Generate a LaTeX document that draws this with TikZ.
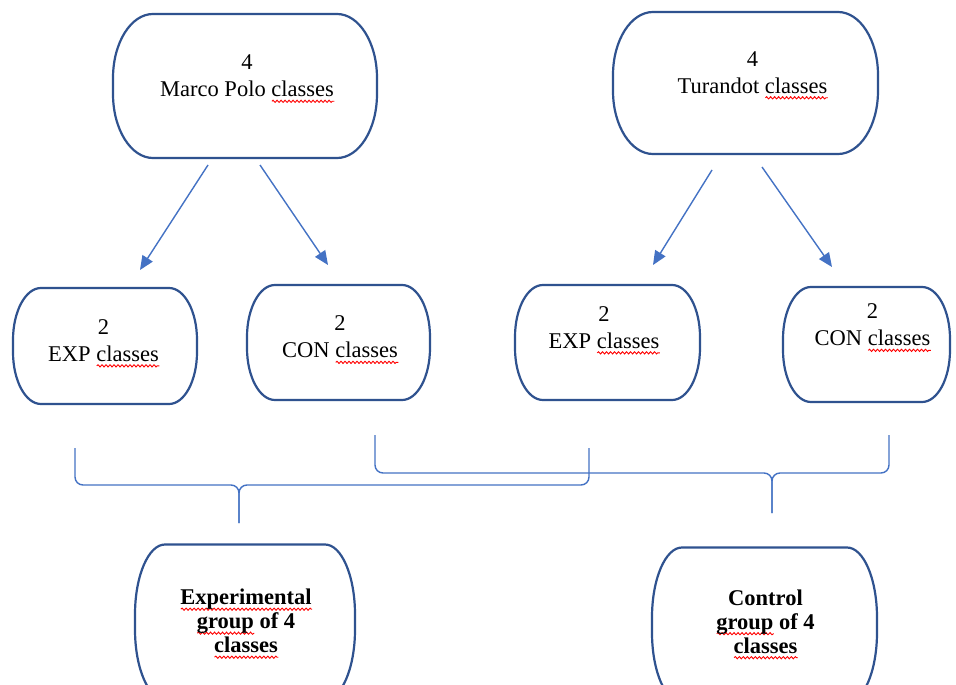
\documentclass[tikz,border=0pt]{standalone}
\usepackage{fontspec}
\setmainfont{Liberation Serif}
\usetikzlibrary{arrows.meta,calc,decorations.pathmorphing}
\definecolor{boxblue}{HTML}{2F528F}
\definecolor{linkblue}{HTML}{4472C4}
\newsavebox\sqbox
\newcommand\sq[1]{\sbox\sqbox{#1}\makebox[0pt][l]{\smash{\tikz[baseline=0pt,x=1pt,y=1pt]\draw[red,line width=0.9pt,decorate,decoration={snake,amplitude=1.1pt,segment length=4pt}] (0pt,-4.5pt) -- (\wd\sqbox,-4.5pt);}}#1}
\newcommand\ovl[3]{%
\draw[boxline] let \p1=(#1.north west), \p2=(#1.south east) in
 (\x1+#2pt,\y1) -- (\x2-#2pt,\y1)
 .. controls (\x2-0.4477*#2pt,\y1) and (\x2,\y1-0.4477*#3pt) .. (\x2,\y1-#3pt)
 -- (\x2,\y2+#3pt)
 .. controls (\x2,\y2+0.4477*#3pt) and (\x2-0.4477*#2pt,\y2) .. (\x2-#2pt,\y2)
 -- (\x1+#2pt,\y2)
 .. controls (\x1+0.4477*#2pt,\y2) and (\x1,\y2+0.4477*#3pt) .. (\x1,\y2+#3pt)
 -- (\x1,\y1-#3pt)
 .. controls (\x1,\y1-0.4477*#3pt) and (\x1+0.4477*#2pt,\y1) .. (\x1+#2pt,\y1) -- cycle;}
\tikzset{
 boxline/.style={draw=boxblue,line width=2.2pt,fill=white},
 boxnode/.style={rectangle,inner sep=0pt,outer sep=0pt},
 txt/.style={align=center,inner sep=0pt,font=\fontsize{22.5}{27}\selectfont},
 btxt/.style={align=center,inner sep=0pt,font=\fontsize{22.5}{24}\selectfont\bfseries},
 arr/.style={draw=linkblue,line width=1.4pt,-{Triangle[length=14pt,width=12pt]}},
 bracel/.style={draw=linkblue,line width=1.4pt,rounded corners=8pt}
}
\begin{document}
\begin{tikzpicture}[x=1pt,y=-1pt]
\clip (0,0) rectangle (956,685);
\fill[white] (0,0) rectangle (956,685);
% box frames
\node[boxnode,minimum width=264pt,minimum height=144pt] (mp) at (245,86) {};
\node[boxnode,minimum width=265pt,minimum height=142pt] (tu) at (745.5,83) {};
\node[boxnode,minimum width=184pt,minimum height=116pt] (exa) at (105,346) {};
\node[boxnode,minimum width=183pt,minimum height=115pt] (coa) at (338.5,342.5) {};
\node[boxnode,minimum width=185pt,minimum height=115pt] (exb) at (607.5,342.5) {};
\node[boxnode,minimum width=167pt,minimum height=115pt] (cob) at (866.5,344.5) {};
\node[boxnode,minimum width=220pt,minimum height=155pt] (eg) at (245,622) {};
\node[boxnode,minimum width=225pt,minimum height=155pt] (cg) at (764.5,625) {};
\ovl{mp}{40}{64}
\ovl{tu}{40}{63}
\ovl{exa}{28}{52}
\ovl{coa}{28}{52}
\ovl{exb}{28}{52}
\ovl{cob}{28}{52}
\ovl{eg}{30}{70}
\ovl{cg}{30}{70}
% texts
\node[txt] (mpt) at (247,76) {4\\Marco Polo \sq{classes}};
\node[txt] (tut) at (752.5,72.5) {4\\Turandot \sq{classes}};
\node[txt] (exat) at (103.5,340.5) {2\\EXP \sq{classes}};
\node[txt] (coat) at (340,337) {2\\CON \sq{classes}};
\node[txt] (exbt) at (604,327.5) {2\\EXP \sq{classes}};
\node[txt] (cobt) at (872.5,325) {2\\CON \sq{classes}};
\node[btxt] (egt) at (246,621) {\sq{Experimental}\\\sq{group} of 4\\\sq{classes}};
\node[btxt] (cgt) at (765.5,621.5) {Control\\\sq{group} of 4\\\sq{classes}};
% arrows
\draw[arr] ($(mp.south)+(-37,7)$) -- ($(exa.north)+(35,-18)$);
\draw[arr] ($(mp.south)+(15,7)$) -- ($(coa.north)+(-10.5,-20)$);
\draw[arr] ($(tu.south)+(-33.5,16)$) -- ($(exb.north)+(45.5,-20)$);
\draw[arr] ($(tu.south)+(16.5,13)$) -- ($(cob.north)+(-34.5,-20)$);
% braces
\coordinate (b1l) at (75,448);
\coordinate (b1r) at (589,448);
\coordinate (b1t) at (239,523);
\coordinate (b2l) at (375,435);
\coordinate (b2r) at (889,435);
\coordinate (b2t) at (772,513);
\draw[bracel] (b1l) -- (b1l |- 0,485) -- (b1t |- 0,485) -- (b1t);
\draw[bracel] (b1r) -- (b1r |- 0,485) -- (b1t |- 0,485) -- (b1t);
\draw[bracel] (b2l) -- (b2l |- 0,473) -- (b2t |- 0,473) -- (b2t);
\draw[bracel] (b2r) -- (b2r |- 0,473) -- (b2t |- 0,473) -- (b2t);
\end{tikzpicture}
\end{document}
